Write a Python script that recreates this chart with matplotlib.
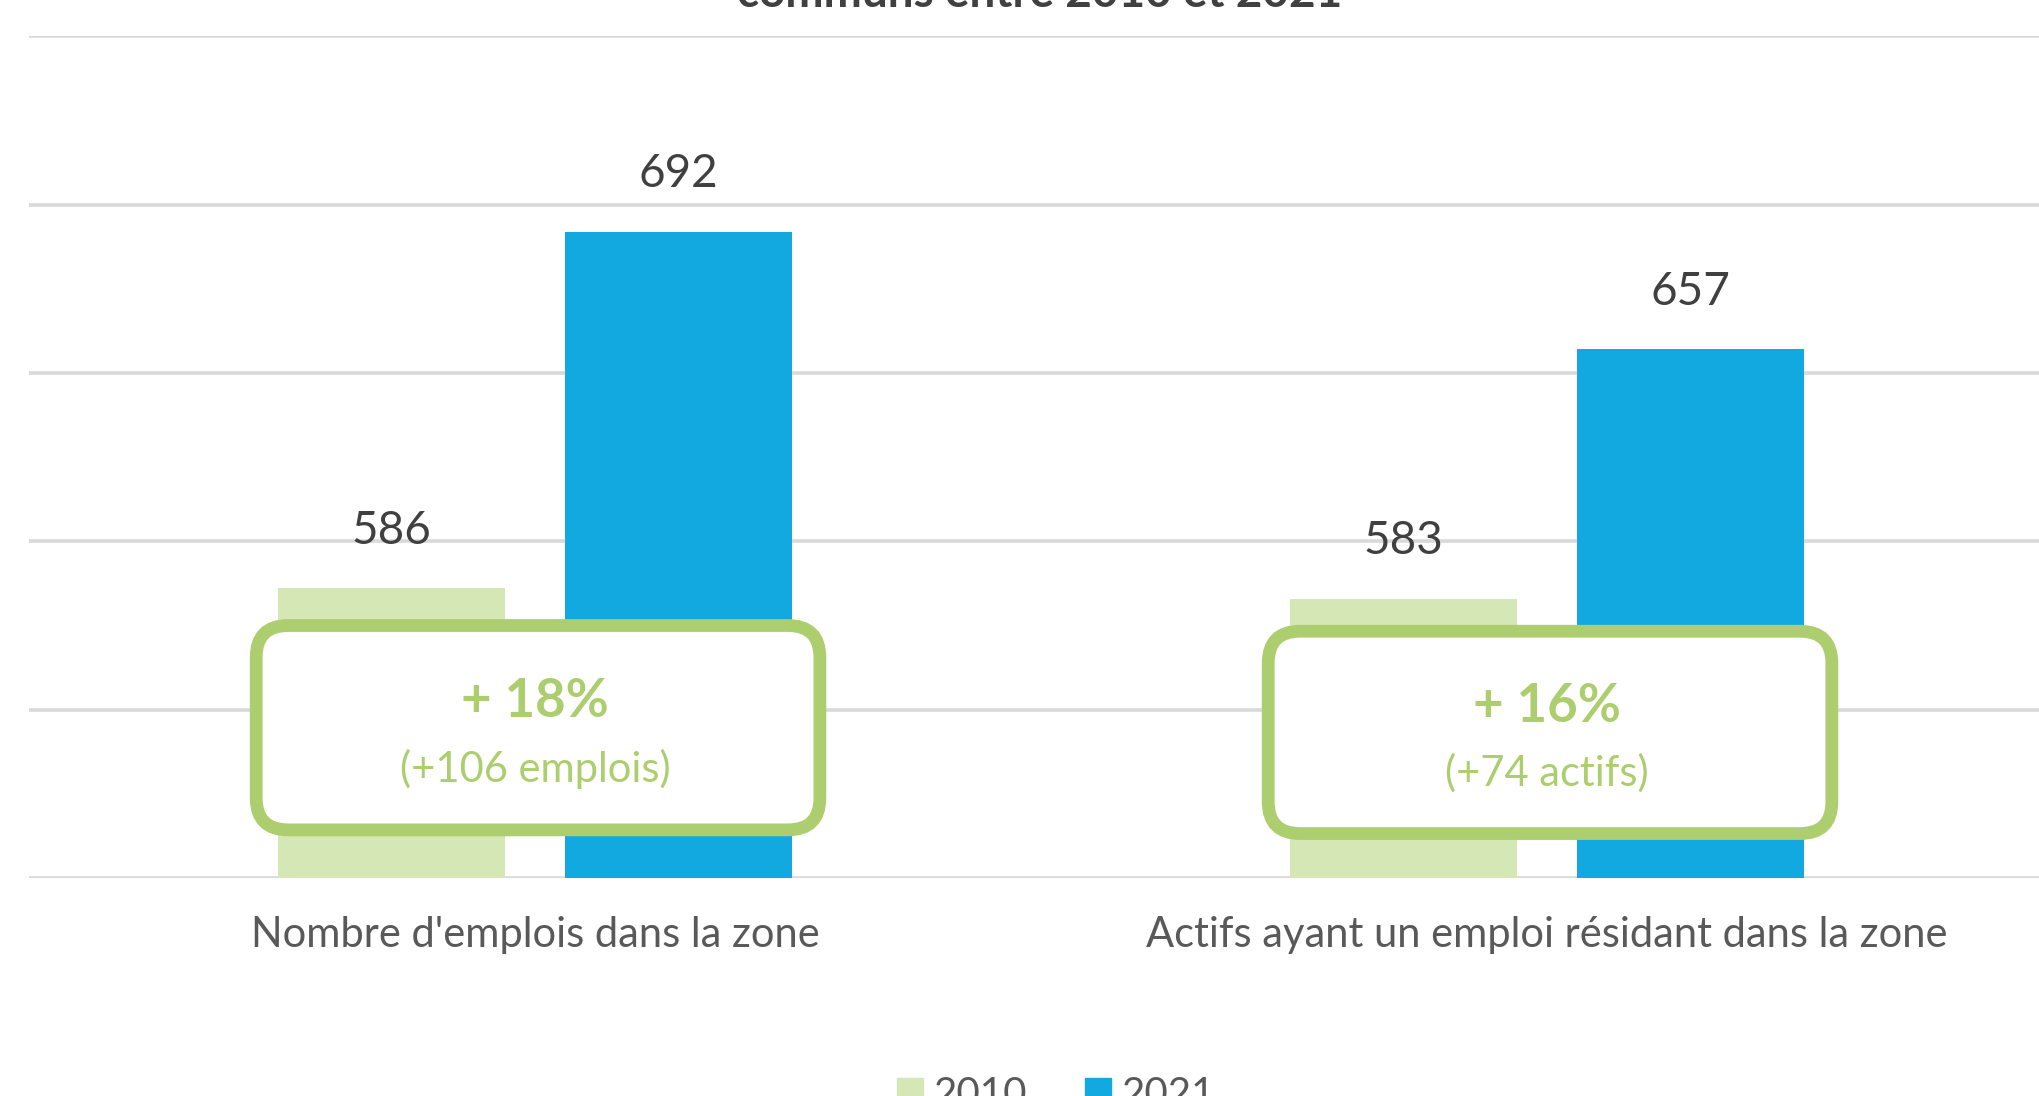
import matplotlib
matplotlib.use("Agg")
import matplotlib.pyplot as plt
from matplotlib.patches import FancyBboxPatch, Patch
from matplotlib.transforms import IdentityTransform
import numpy as np

plt.rcParams['font.family'] = ['Lato', 'DejaVu Sans']

# ---- data ----
categories = ["Nombre d'emplois dans la zone",
              "Actifs ayant un emploi résidant dans la zone"]
series_names = ["2010", "2021"]
values_2010 = [586, 583]
values_2021 = [692, 657]
pct_labels = ["+ 18%", "+ 16%"]
detail_labels = ["(+106 emplois)", "(+74 actifs)"]
title_text = "communs entre 2010 et 2021"

c2010 = "#d4e7b5"
c2021 = "#12a8e0"
cbox = "#adce6f"

W, H = 2039, 1096
fig = plt.figure(figsize=(W / 100, H / 100), dpi=100)
ax = fig.add_axes([29 / W, (H - 878) / H, 2024 / W, (878 - 36.4) / H])

x = np.arange(len(categories))
bw = 0.224
off = 0.142
b1 = ax.bar(x - off, values_2010, bw, color=c2010, zorder=2, label=series_names[0])
b2 = ax.bar(x + off, values_2021, bw, color=c2021, zorder=2, label=series_names[1])

ax.set_ylim(500, 750)
ax.set_xlim(-0.5, 1.5)
ax.set_yticks(np.arange(500, 751, 50))
ax.yaxis.grid(True, color="#d9d9d9", linewidth=2.6, zorder=0)
ax.set_axisbelow(True)
for s in ax.spines.values():
    s.set_visible(False)
ax.tick_params(axis='y', left=False, labelleft=False)
ax.tick_params(axis='x', bottom=False, pad=24)
ax.set_xticks(x)
ax.set_xticklabels(categories, fontsize=30, color="#595959")

for bars, vals in ((b1, values_2010), (b2, values_2021)):
    for rect, v in zip(bars, vals):
        ax.annotate(f"{v}", (rect.get_x() + rect.get_width() / 2, v),
                    xytext=(0, 41.5), textcoords="offset points",
                    ha="center", va="center", fontsize=33, color="#404040")

# annotation boxes (in pixel coordinates derived from data)
fig.canvas.draw()
box_y = [(575.0, 514.3), (573.3, 513.2)]
for i in range(len(categories)):
    xl = x[i] - 0.2755
    xr = x[i] + 0.2815
    yt, yb = box_y[i]
    (px0, py0) = ax.transData.transform((xl, yb))
    (px1, py1) = ax.transData.transform((xr, yt))
    p = FancyBboxPatch((px0, py0), px1 - px0, py1 - py0,
                       boxstyle="round,pad=0,rounding_size=32",
                       transform=IdentityTransform(), facecolor="white",
                       edgecolor=cbox, linewidth=9.2, zorder=5, clip_on=False)
    ax.add_artist(p)
    xc = (xl + xr) / 2 - 0.003
    ymid = (yt + yb) / 2
    ax.text(xc, ymid + 7.7, pct_labels[i], ha="center", va="center",
            fontsize=38, fontweight="bold", color=cbox, zorder=10)
    ax.text(xc, ymid - 12.2, detail_labels[i], ha="center", va="center",
            fontsize=30, color=cbox, zorder=10)

fig.text(1040 / W, 1 - 7 / H, title_text, ha="center", va="baseline",
         fontsize=33, fontweight="bold", color="#404040")

handles = [Patch(color=c2010), Patch(color=c2021)]
fig.legend(handles, series_names, loc="center", bbox_to_anchor=(1056 / W, 1 - 1094 / H),
           ncol=2, frameon=False, fontsize=29, labelcolor="#595959",
           handlelength=0.65, handleheight=0.65, handletextpad=0.25, columnspacing=1.45)

fig.savefig("out.png", dpi=100)
